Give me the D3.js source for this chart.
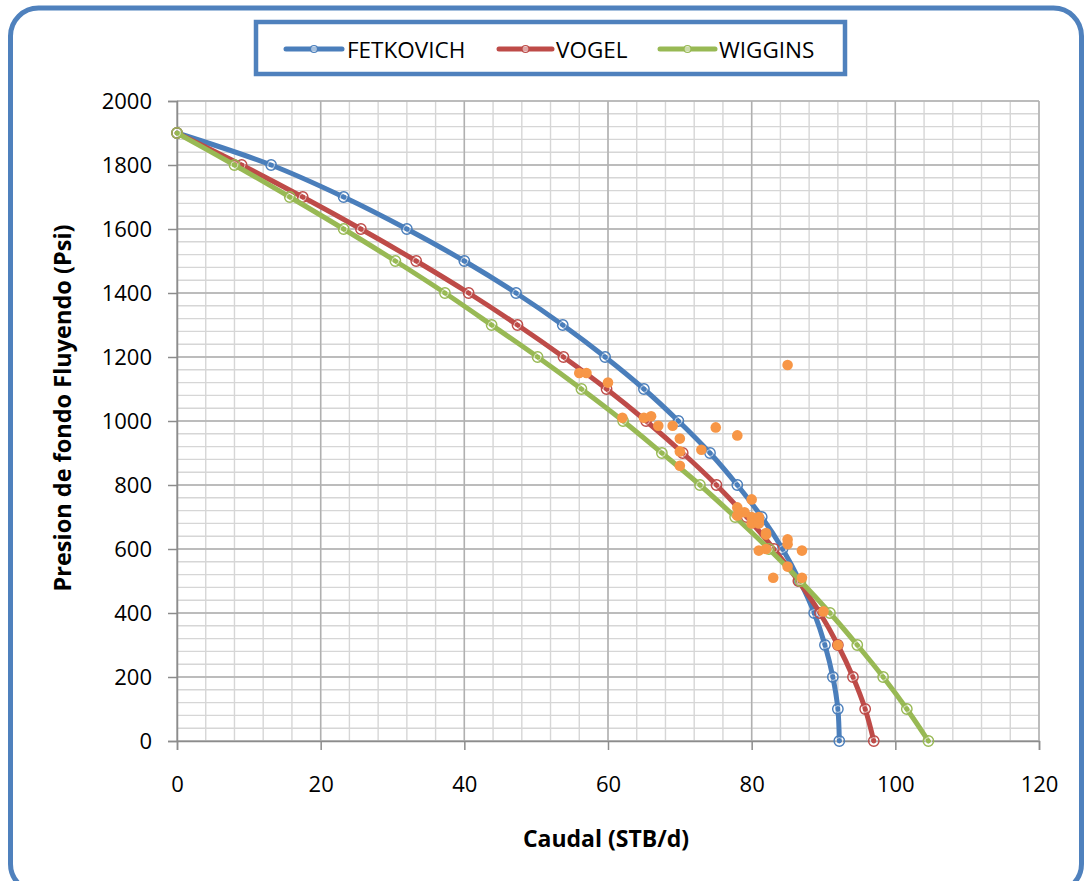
<!DOCTYPE html>
<html>
<head>
<meta charset="utf-8">
<script src="https://cdn.jsdelivr.net/npm/d3@7"></script>
<style>
  html, body { margin: 0; padding: 0; background: #ffffff; }
  svg { display: block; }
  text { font-family: "Open Sans", "Liberation Sans", sans-serif; fill: #000; }
</style>
</head>
<body>
<svg id="chart" width="1086" height="881"></svg>
<script>
// ---- Data ----
const pressures = [1900,1800,1700,1600,1500,1400,1300,1200,1100,1000,900,800,700,600,500,400,300,200,100,0];
const fetkovich = [0,13.1,23.2,32.0,40.0,47.2,53.7,59.6,65.0,69.8,74.2,78.0,81.4,84.3,86.7,88.7,90.2,91.3,92.0,92.2];
const vogel     = [0,9.0,17.5,25.6,33.3,40.6,47.4,53.8,59.8,65.3,70.4,75.1,79.3,83.1,86.5,89.5,92.0,94.1,95.8,97.0];
const wiggins   = [0,8.0,15.7,23.2,30.4,37.3,43.8,50.2,56.3,62.1,67.5,72.8,77.7,82.4,86.8,90.9,94.7,98.3,101.6,104.6];

const testQ = [85,56,57,60,62,65,66,67,69,75,78,70,70,73,70,80,78,79,78,80,81,80,81,81,82,82,85,85,87,81,82,85,83,87,90,92];
const testP = [1175,1150,1150,1120,1010,1010,1015,985,985,980,955,945,905,910,860,755,730,715,705,700,690,680,680,700,650,645,630,615,595,595,600,545,510,510,405,300];

const seriesNames = ["FETKOVICH","VOGEL","WIGGINS"];
const seriesColors = ["#4A7EBB","#BE4B48","#98B954"];
const scatterColor = "#F79646";

const xTicks = [0,20,40,60,80,100,120];
const yTicks = [0,200,400,600,800,1000,1200,1400,1600,1800,2000];
const xTitle = "Caudal (STB/d)";
const yTitle = "Presion de fondo Fluyendo (Psi)";

// ---- Layout ----
const svg = d3.select("#chart");
const L = 177, R = 1039, T = 101, B = 741;

// outer rounded border
svg.append("rect")
  .attr("x", 10.5).attr("y", 8).attr("width", 1071).attr("height", 884)
  .attr("rx", 28).attr("ry", 28)
  .attr("fill", "#fff").attr("stroke", "#4F81BD").attr("stroke-width", 5);

const x = d3.scaleLinear().domain([0,120]).range([L,R]);
const y = d3.scaleLinear().domain([0,2000]).range([B,T]);

// grid - minor
const g = svg.append("g");
g.selectAll("line.vminor").data(d3.range(0,121,4)).join("line")
  .attr("x1", d=>x(d)).attr("x2", d=>x(d)).attr("y1", T).attr("y2", B)
  .attr("stroke", "#d6d6d6").attr("stroke-width", 1.4);
g.selectAll("line.hminor").data(d3.range(0,2001,40)).join("line")
  .attr("y1", d=>y(d)).attr("y2", d=>y(d)).attr("x1", L).attr("x2", R)
  .attr("stroke", "#d6d6d6").attr("stroke-width", 1.4);
// grid - major
g.selectAll("line.vmajor").data(xTicks).join("line")
  .attr("x1", d=>x(d)).attr("x2", d=>x(d)).attr("y1", T).attr("y2", B)
  .attr("stroke", "#b0b0b0").attr("stroke-width", 1.5);
g.selectAll("line.hmajor").data(yTicks).join("line")
  .attr("y1", d=>y(d)).attr("y2", d=>y(d)).attr("x1", L).attr("x2", R)
  .attr("stroke", "#b0b0b0").attr("stroke-width", 1.5);

// axes
const xAxis = d3.axisBottom(x).tickValues(xTicks).tickSize(9).tickPadding(26).tickFormat(d3.format("d"));
const yAxis = d3.axisLeft(y).tickValues(yTicks).tickSize(9).tickPadding(16).tickFormat(d3.format("d"));
const gx = svg.append("g").attr("transform", `translate(0,${B})`).call(xAxis);
const gy = svg.append("g").attr("transform", `translate(${L},0)`).call(yAxis);
[gx, gy].forEach(a => {
  a.select(".domain").attr("stroke", "#8c8c8c").attr("stroke-width", 1.5);
  a.selectAll(".tick line").attr("stroke", "#8c8c8c").attr("stroke-width", 1.5);
  a.selectAll(".tick text").attr("font-size", 22).attr("font-family", "'Open Sans', sans-serif").attr("fill", "#000");
});
gy.selectAll(".tick text").attr("dy", "0.36em");

// axis titles
svg.append("text").attr("x", 606).attr("y", 847).attr("text-anchor", "middle")
  .attr("font-size", 23).attr("font-weight", "bold").text(xTitle);
svg.append("text").attr("transform", "translate(71,408) rotate(-90)").attr("text-anchor", "middle")
  .attr("font-size", 23.5).attr("font-weight", "bold").text(yTitle);

// series lines
const allSeries = [fetkovich, vogel, wiggins];
const line = d3.line().x(d=>x(d[0])).y(d=>y(d[1])).curve(d3.curveCatmullRom.alpha(0.5));
allSeries.forEach((vals, i) => {
  const pts = vals.map((q, k) => [q, pressures[k]]);
  const sg = svg.append("g");
  sg.append("path").datum(pts).attr("d", line)
    .attr("fill", "none").attr("stroke", seriesColors[i]).attr("stroke-width", 5)
    .attr("stroke-linejoin", "round").attr("stroke-linecap", "round");
  sg.selectAll("circle.o").data(pts).join("circle")
    .attr("cx", d=>x(d[0])).attr("cy", d=>y(d[1])).attr("r", 5.2)
    .attr("fill", "none").attr("stroke", seriesColors[i]).attr("stroke-width", 1.4);
  sg.selectAll("circle.i").data(pts).join("circle")
    .attr("cx", d=>x(d[0])).attr("cy", d=>y(d[1])).attr("r", 3.4)
    .attr("fill", "none").attr("stroke", "#ffffff").attr("stroke-width", 1).attr("stroke-opacity", 0.6);
});

// scatter test points
svg.append("g").selectAll("circle").data(testQ.map((q,i)=>[q,testP[i]])).join("circle")
  .attr("cx", d=>x(d[0])).attr("cy", d=>y(d[1])).attr("r", 5.3)
  .attr("fill", scatterColor);

// legend
const lg = svg.append("g");
lg.append("rect").attr("x", 256).attr("y", 22).attr("width", 589).attr("height", 52)
  .attr("fill", "#fff").attr("stroke", "#4F81BD").attr("stroke-width", 4.5);
const legX = [[286,342,347],[499,552,556],[660,715,719]];
seriesNames.forEach((name, i) => {
  const [x1, x2, tx] = legX[i];
  lg.append("line").attr("x1", x1).attr("x2", x2).attr("y1", 49).attr("y2", 49)
    .attr("stroke", seriesColors[i]).attr("stroke-width", 5).attr("stroke-linecap", "round");
  lg.append("circle").attr("cx", (x1+x2)/2).attr("cy", 49).attr("r", 3.5)
    .attr("fill", "#fff").attr("fill-opacity", 0.5).attr("stroke", seriesColors[i]).attr("stroke-width", 1.2);
  lg.append("text").attr("x", tx).attr("y", 57.5).attr("font-size", 22.5).text(name);
});
</script>
</body>
</html>
